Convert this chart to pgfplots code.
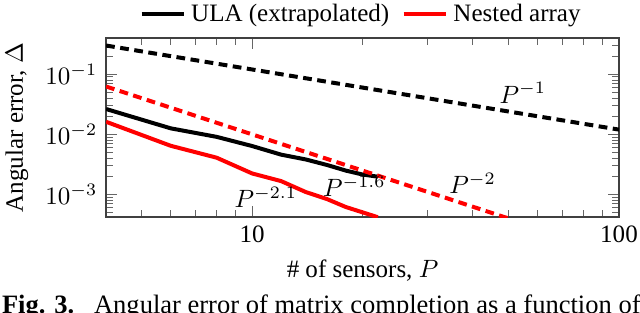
\documentclass[border=0pt]{standalone}
\usepackage{fontspec}
\setmainfont{Liberation Serif}
\usepackage{pgfplots}
\pgfplotsset{compat=1.18}
\begin{document}
\begin{tikzpicture}
\begin{axis}[
  name=ax,
  xmode=log, ymode=log,
  scale only axis,
  width=205pt, height=71.6pt,
  xmin=4, xmax=100,
  ymin=4.2e-4, ymax=0.4,
  xtick={10,100}, xticklabels={10,100},
  minor xtick={4,5,6,7,8,9,20,30,40,50,60,70,80,90},
  ytick={1e-1,1e-2,1e-3},
  minor ytick={5e-4,6e-4,7e-4,8e-4,9e-4,2e-3,3e-3,4e-3,5e-3,6e-3,7e-3,8e-3,9e-3,2e-2,3e-2,4e-2,5e-2,6e-2,7e-2,8e-2,9e-2,2e-1,3e-1,4e-1},
  xlabel={\# of sensors, $P$},
  ylabel={Angular error, $\Delta$},
  legend columns=2,
  legend style={draw=none, at={(0.5,1)}, anchor=south, yshift=1pt,
    /tikz/every even column/.append style={column sep=3pt}},
  every axis plot/.append style={line width=1.6pt},
  axis line style={black!75, line width=0.6pt},
  every tick/.append style={black!60, thin},
]
\addplot[black, solid] coordinates {
  (4,0.0264) (6,0.0126) (8,0.0091) (10,0.0064) (12,0.0046) (14,0.00383)
  (16,0.0031) (18,0.0025) (20,0.00215) (22,0.00198)
};
\addlegendentry{ULA (extrapolated)}
\addplot[red, solid] coordinates {
  (4,0.0162) (6,0.00646) (8,0.0041) (10,0.00224) (12,0.00167) (14,0.0011)
  (16,0.00084) (18,0.00062) (22,0.00042)
};
\addlegendentry{Nested array}
\addplot[black, dash pattern=on 3.5pt off 2.2pt, forget plot] coordinates {(4,0.3) (100,0.012)};
\addplot[red, dash pattern=on 3.5pt off 2.2pt, forget plot] coordinates {(4,0.0625) (50,0.0004)};
\node at (axis cs:54.7,0.049) {$P^{-1}$};
\node at (axis cs:39.9,0.00155) {$P^{-2}$};
\node at (axis cs:19.0,0.00138) {$P^{-1.6}$};
\node at (axis cs:10.9,0.0009) {$P^{-2.1}$};
\end{axis}
\node[anchor=base west, inner sep=0pt] at ([xshift=-41.8pt,yshift=-38.4pt]ax.south west)
  {\fontsize{10.6}{12}\selectfont\textbf{Fig. 3.}\ \ \ Angular error of matrix completion as a function of};
\pgfresetboundingbox
\path[use as bounding box] ([xshift=-42.4pt,yshift=-38pt]ax.south west) rectangle ([xshift=8.4pt,yshift=15.2pt]ax.north east);
\end{tikzpicture}
\end{document}
